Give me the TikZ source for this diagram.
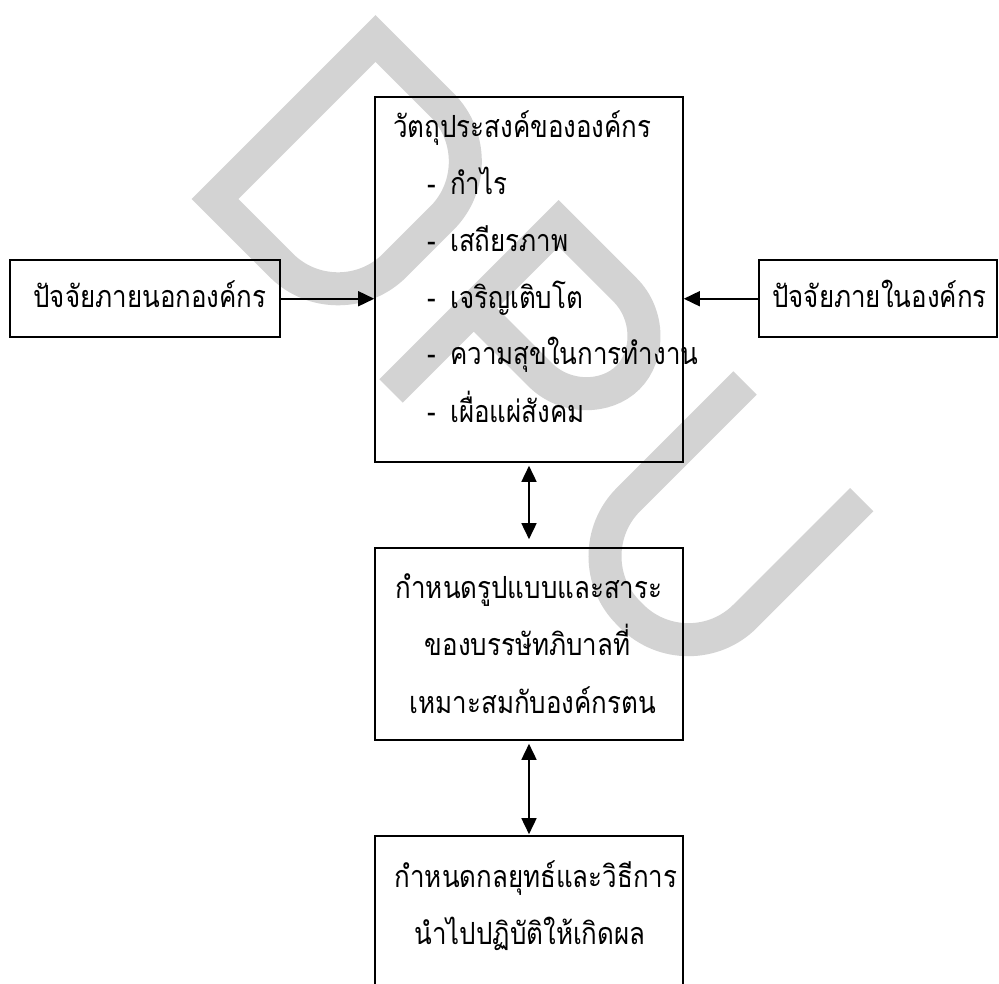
\documentclass[tikz,border=0pt]{standalone}
\usepackage{fontspec}
\newfontfamily\thai[Script=Thai,FakeStretch=0.85]{Loma}
\usetikzlibrary{arrows.meta}
\definecolor{wmgray}{RGB}{211,211,211}
\begin{document}
\begin{tikzpicture}[x=1pt,y=-1pt,
  box/.style={draw=black, line width=1.6pt, inner sep=0pt},
  txt/.style={inner sep=0pt, font=\thai\fontsize{30.5}{34}\selectfont},
  wm/.style={draw=wmgray, line width=33pt, line join=miter, line cap=butt},
  arr/.style={line width=1.6pt, -{Triangle[length=16pt,width=15pt]}},
  darr/.style={line width=1.6pt, {Triangle[length=16pt,width=15pt]}-{Triangle[length=16pt,width=15pt]}}]
\useasboundingbox (0,0) rectangle (999,984);
\clip (0,0) rectangle (999,984);
% watermark D P U
\begin{scope}[shift={(215,199)}, rotate=-45]
  \draw[wm] (0,0) -- (0,-227) -- (94,-227) .. controls (138,-227) and (174,-191) .. (174,-147) -- (174,-80) .. controls (174,-36) and (138,0) .. (94,0) -- cycle;
\end{scope}
\begin{scope}[shift={(391,391)}, rotate=-45]
  \draw[wm] (0,0) -- (0,-237) -- (94,-237) .. controls (129,-237) and (158,-208) .. (158,-177) .. controls (158,-146) and (129,-117) .. (94,-117) -- (0,-117);
\end{scope}
\begin{scope}[shift={(745,383)}, rotate=-45]
  \draw[wm] (0,0) -- (0,165) .. controls (0,209) and (36,245) .. (80,245) -- (85,245) .. controls (129,245) and (165,209) .. (165,165) -- (165,0);
\end{scope}
% boxes
\node[box, minimum width=308pt, minimum height=365pt] (obj) at (529,279.5) {};
\node[box, minimum width=270pt, minimum height=77pt] (ext) at (145,298.75) {};
\node[box, minimum width=238pt, minimum height=77pt] (int) at (878,298.75) {};
\node[box, minimum width=308pt, minimum height=192pt] (mid) at (529,644) {};
\node[box, minimum width=308pt, minimum height=250pt] (bot) at (529,961) {};
% texts
\node[txt, anchor=base west] (t0) at (393,138) {วัตถุประสงค์ขององค์กร};
\node[txt, anchor=base west] (t1) at (427,195) {\makebox[23pt][l]{-}กำไร};
\node[txt, anchor=base west] (t2) at (427,252) {\makebox[23pt][l]{-}เสถียรภาพ};
\node[txt, anchor=base west] (t3) at (427,308.5) {\makebox[23pt][l]{-}เจริญเติบโต};
\node[txt, anchor=base west] (t4) at (427,365) {\makebox[23pt][l]{-}ความสุขในการทำงาน};
\node[txt, anchor=base west] (t5) at (427,422) {\makebox[23pt][l]{-}เผื่อแผ่สังคม};
\node[txt, anchor=base] (extt) at (150,308) {ปัจจัยภายนอกองค์กร};
\node[txt, anchor=base] (intt) at (879.5,308) {ปัจจัยภายในองค์กร};
\node[txt, anchor=base] (m1) at (529,598) {กำหนดรูปแบบและสาระ};
\node[txt, anchor=base] (m2) at (527.5,655.5) {ของบรรษัทภิบาลที่};
\node[txt, anchor=base] (m3) at (533,713) {เหมาะสมกับองค์กรตน};
\node[txt, anchor=base] (b1) at (536,887) {กำหนดกลยุทธ์และวิธีการ};
\node[txt, anchor=base] (b2) at (530,944) {นำไปปฏิบัติให้เกิดผล};
% connectors
\draw[arr] (ext.east) -- (ext.east -| obj.west);
\draw[arr] (int.west) -- (int.west -| obj.east);
\draw[darr, shorten <=3pt, shorten >=8pt] (obj.south) -- (mid.north);
\draw[darr, shorten <=3pt, shorten >=1pt] (mid.south) -- (bot.north);
\end{tikzpicture}
\end{document}
